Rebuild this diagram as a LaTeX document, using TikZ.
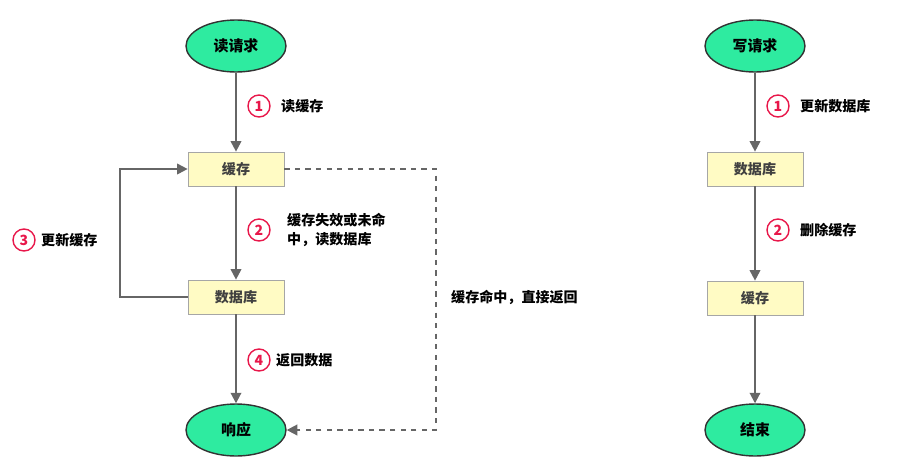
\documentclass[tikz,border=0pt]{standalone}
\usepackage{fontspec}
\setmainfont{Noto Sans CJK SC}
\usetikzlibrary{arrows.meta,shapes.geometric}
\definecolor{termgreen}{HTML}{2EEBA0}
\definecolor{boxyellow}{HTML}{FFFBC4}
\definecolor{stepred}{HTML}{E8174A}
\definecolor{linegray}{HTML}{666666}
\tikzset{
  term/.style={ellipse, draw=black!80, line width=.8pt, fill=termgreen, minimum width=2cm, minimum height=1.04cm, font=\fontsize{8.5}{10}\selectfont\bfseries},
  store/.style={rectangle, draw=black!35, fill=boxyellow, minimum width=1.92cm, minimum height=.68cm, font=\fontsize{8}{10}\selectfont\bfseries, text=black!75},
  stepmark/.style={circle, draw=stepred, line width=.8pt, text=stepred, inner sep=0, minimum size=.44cm, font=\fontsize{8}{10}\selectfont\bfseries},
  note/.style={font=\fontsize{8}{11}\selectfont\bfseries, align=left, anchor=west},
  flow/.style={draw=linegray, line width=1.1pt, -{Triangle[length=6pt,width=6pt]}}
}
\begin{document}
\begin{tikzpicture}
\useasboundingbox (0,0) rectangle (17.96,-9.44);
% left column
\node [term] (read) at (4.72,-.92) {读请求};
\node [store] (cache) at (4.72,-3.38) {缓存};
\node [store] (db) at (4.72,-5.94) {数据库};
\node [term] (resp) at (4.72,-8.6) {响应};
\coordinate (loopa) at (2.4,-5.94);
\coordinate (loopb) at (2.4,-3.38);
\coordinate (dasha) at (8.72,-3.38);
\coordinate (dashb) at (8.72,-8.6);

\node [stepmark] (s1) at (5.18,-2.12) {1};
\node [note] at (5.5,-2.12) {读缓存};
\node [stepmark] (s2) at (5.18,-4.6) {2};
\node [note] at (5.62,-4.6) {缓存失效或未命\\中，读数据库};
\node [stepmark] (s3) at (.48,-4.8) {3};
\node [note] at (.7,-4.8) {更新缓存};
\node [stepmark] (s4) at (5.18,-7.2) {4};
\node [note] at (5.4,-7.2) {返回数据};
\node [note] at (8.9,-5.94) {缓存命中，直接返回};

\draw [flow] (read) -- (cache);
\draw [flow] (cache) -- (db);
\draw [flow] (db) -- (resp);
\draw [flow] (db.west) -- (loopa) -- (loopb) -- (cache.west);
\draw [flow, dashed] (cache.east) -- (dasha) -- (dashb) -- (resp.east);

% right column
\node [term] (write) at (15.1,-.92) {写请求};
\node [store] (db2) at (15.1,-3.38) {数据库};
\node [store] (cache2) at (15.1,-5.96) {缓存};
\node [term] (done) at (15.1,-8.6) {结束};

\node [stepmark] (r1) at (15.56,-2.12) {1};
\node [note] at (15.88,-2.12) {更新数据库};
\node [stepmark] (r2) at (15.56,-4.6) {2};
\node [note] at (15.88,-4.6) {删除缓存};

\draw [flow] (write) -- (db2);
\draw [flow] (db2) -- (cache2);
\draw [flow] (cache2) -- (done);
\end{tikzpicture}
\end{document}
